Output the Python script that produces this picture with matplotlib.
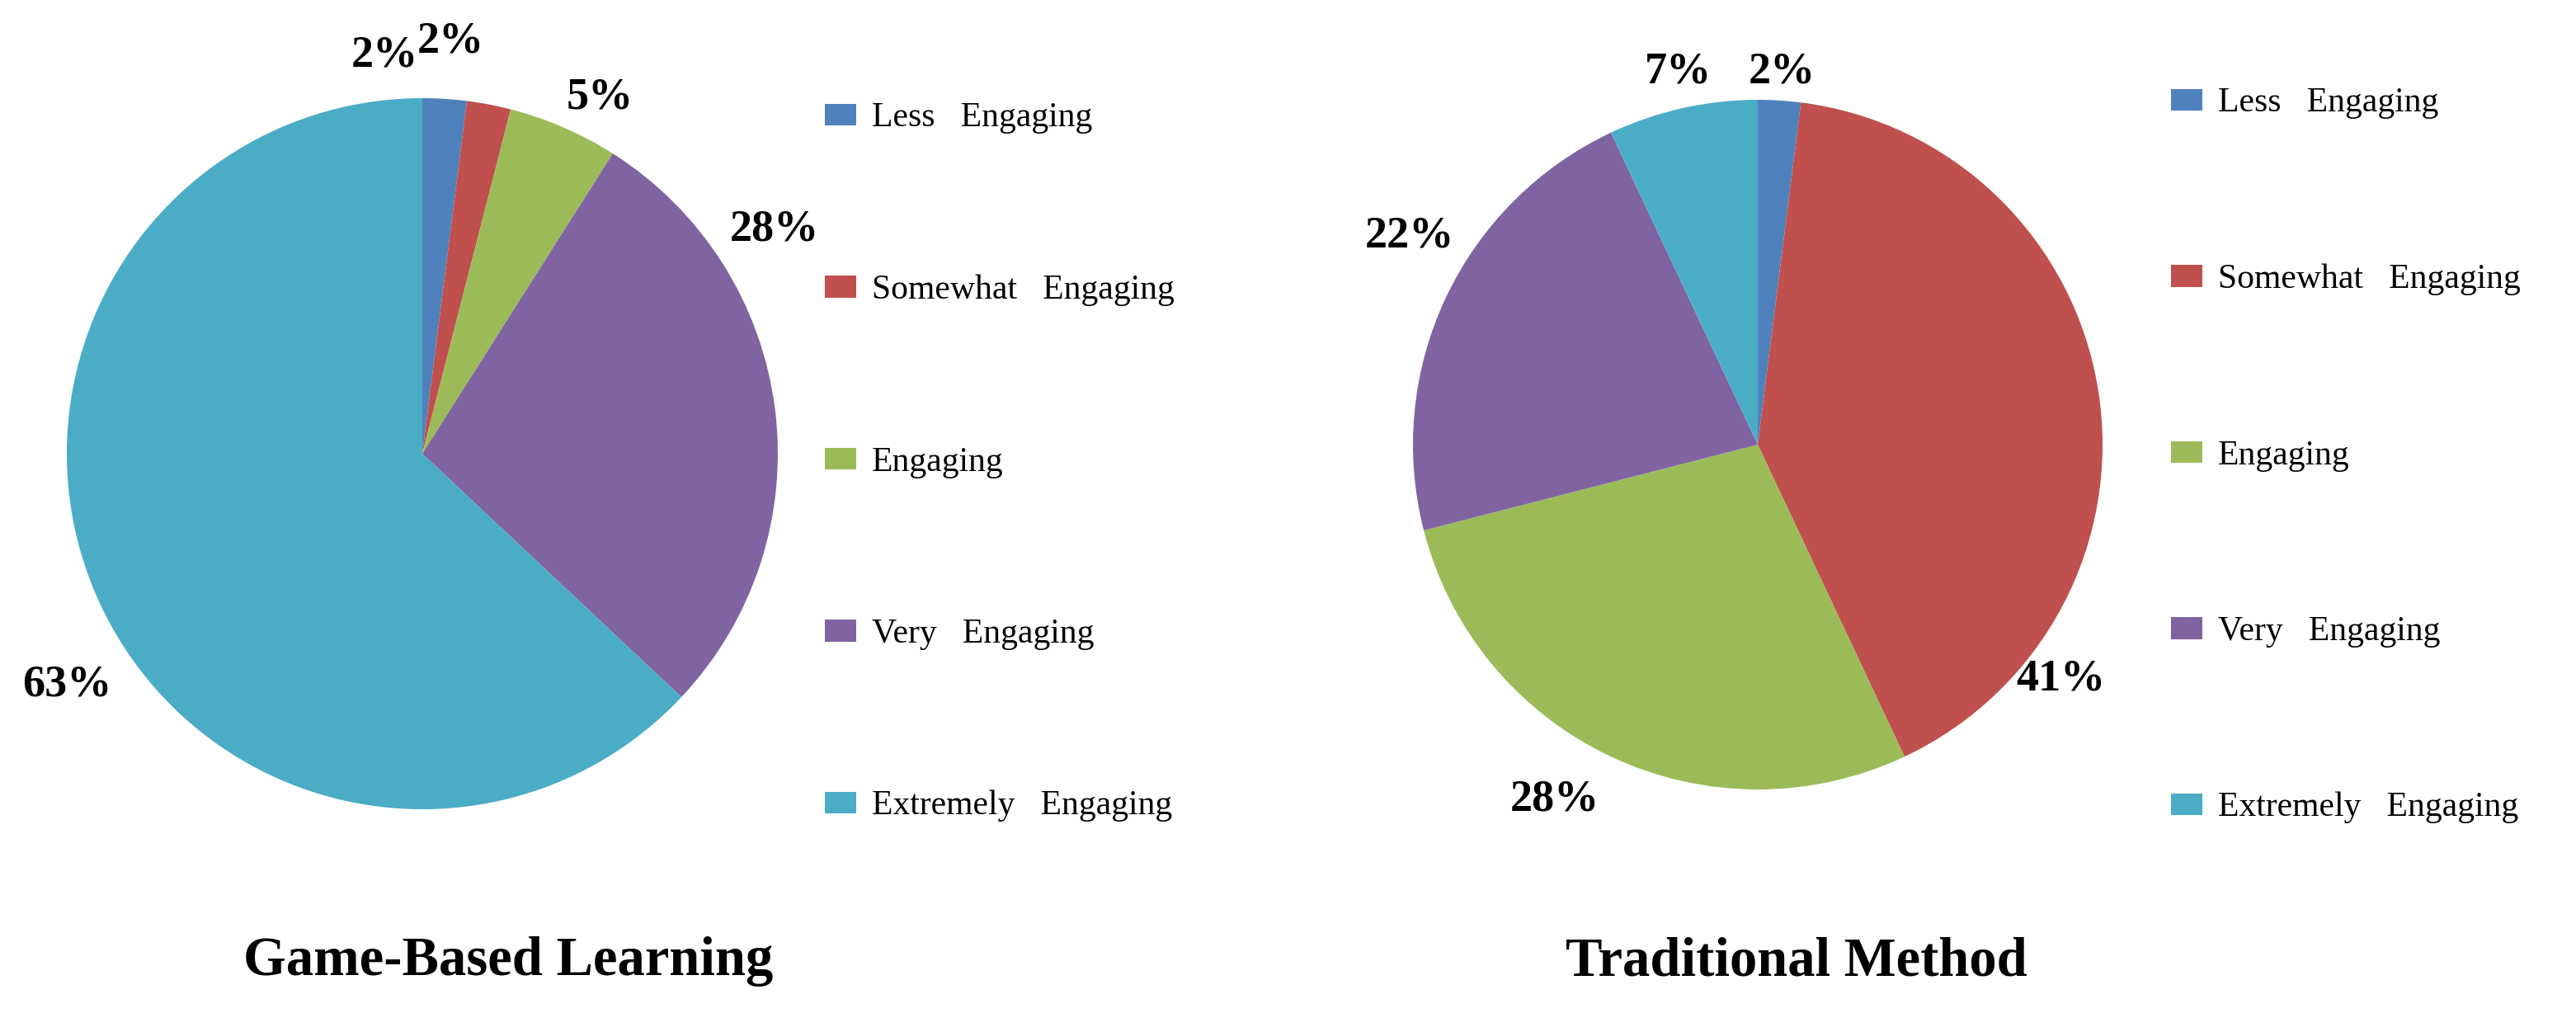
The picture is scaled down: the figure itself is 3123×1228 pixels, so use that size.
import matplotlib
matplotlib.use("Agg")
import matplotlib.pyplot as plt

# data
categories = ["Less   Engaging", "Somewhat   Engaging", "Engaging",
              "Very   Engaging", "Extremely   Engaging"]
game_based = [2, 2, 5, 28, 63]
traditional = [2, 41, 28, 22, 7]
titles = ["Game-Based Learning", "Traditional Method"]

colors = ["#4F81BD", "#C0504D", "#9BBB59", "#8064A2", "#4BACC6"]

# label positions in pie-radius units (Excel best-fit placement)
game_label_pos = [(-0.105, 1.12), (0.08, 1.16), (0.50, 1.0), (0.99, 0.63), (-1.0, -0.65)]
trad_label_pos = [(0.07, 1.08), (0.88, -0.68), (-0.59, -1.03), (-1.01, 0.605), (-0.23, 1.08)]

plt.rcParams['font.family'] = ['Liberation Serif', 'DejaVu Serif']

W, H = 3123, 1228
fig = plt.figure(figsize=(W / 100, H / 100), dpi=100)


def axes_for(cx, cy, r):
    # pixel centre / radius -> figure fraction box
    return fig.add_axes([(cx - r) / W, (H - cy - r) / H, 2 * r / W, 2 * r / H])


def draw_pie(ax, values, label_pos):
    wedges, _, autotexts = ax.pie(values, colors=colors, startangle=90,
                                  counterclock=False, autopct='%1.0f%%',
                                  wedgeprops=dict(linewidth=0))
    for t, pos in zip(autotexts, label_pos):
        t.set_position(pos)
        t.set_fontsize(39)
        t.set_fontweight('bold')
        t.set_ha('center')
        t.set_va('center')
    ax.set_xlim(-1, 1)
    ax.set_ylim(-1, 1)
    return wedges


ax1 = axes_for(512, 550, 431)
w1 = draw_pie(ax1, game_based, game_label_pos)
ax2 = axes_for(2131, 539, 418)
w2 = draw_pie(ax2, traditional, trad_label_pos)

legend_kw = dict(loc='upper left', frameon=False, fontsize=30,
                 handlelength=0.92, handleheight=0.6, handletextpad=0.45,
                 borderpad=0, borderaxespad=0)
fig.legend(w1, categories, bbox_to_anchor=(1000 / W, 1 - 124 / H),
           labelspacing=4.08, **legend_kw)
fig.legend(w2, categories, bbox_to_anchor=(2632 / W, 1 - 106 / H),
           labelspacing=4.2, **legend_kw)

fig.text(616 / W, 1 - 1166 / H, titles[0], ha='center', va='center',
         fontsize=48, fontweight='bold')
fig.text(2178 / W, 1 - 1166 / H, titles[1], ha='center', va='center',
         fontsize=48, fontweight='bold')

fig.savefig("out.png", dpi=100, facecolor='white')
